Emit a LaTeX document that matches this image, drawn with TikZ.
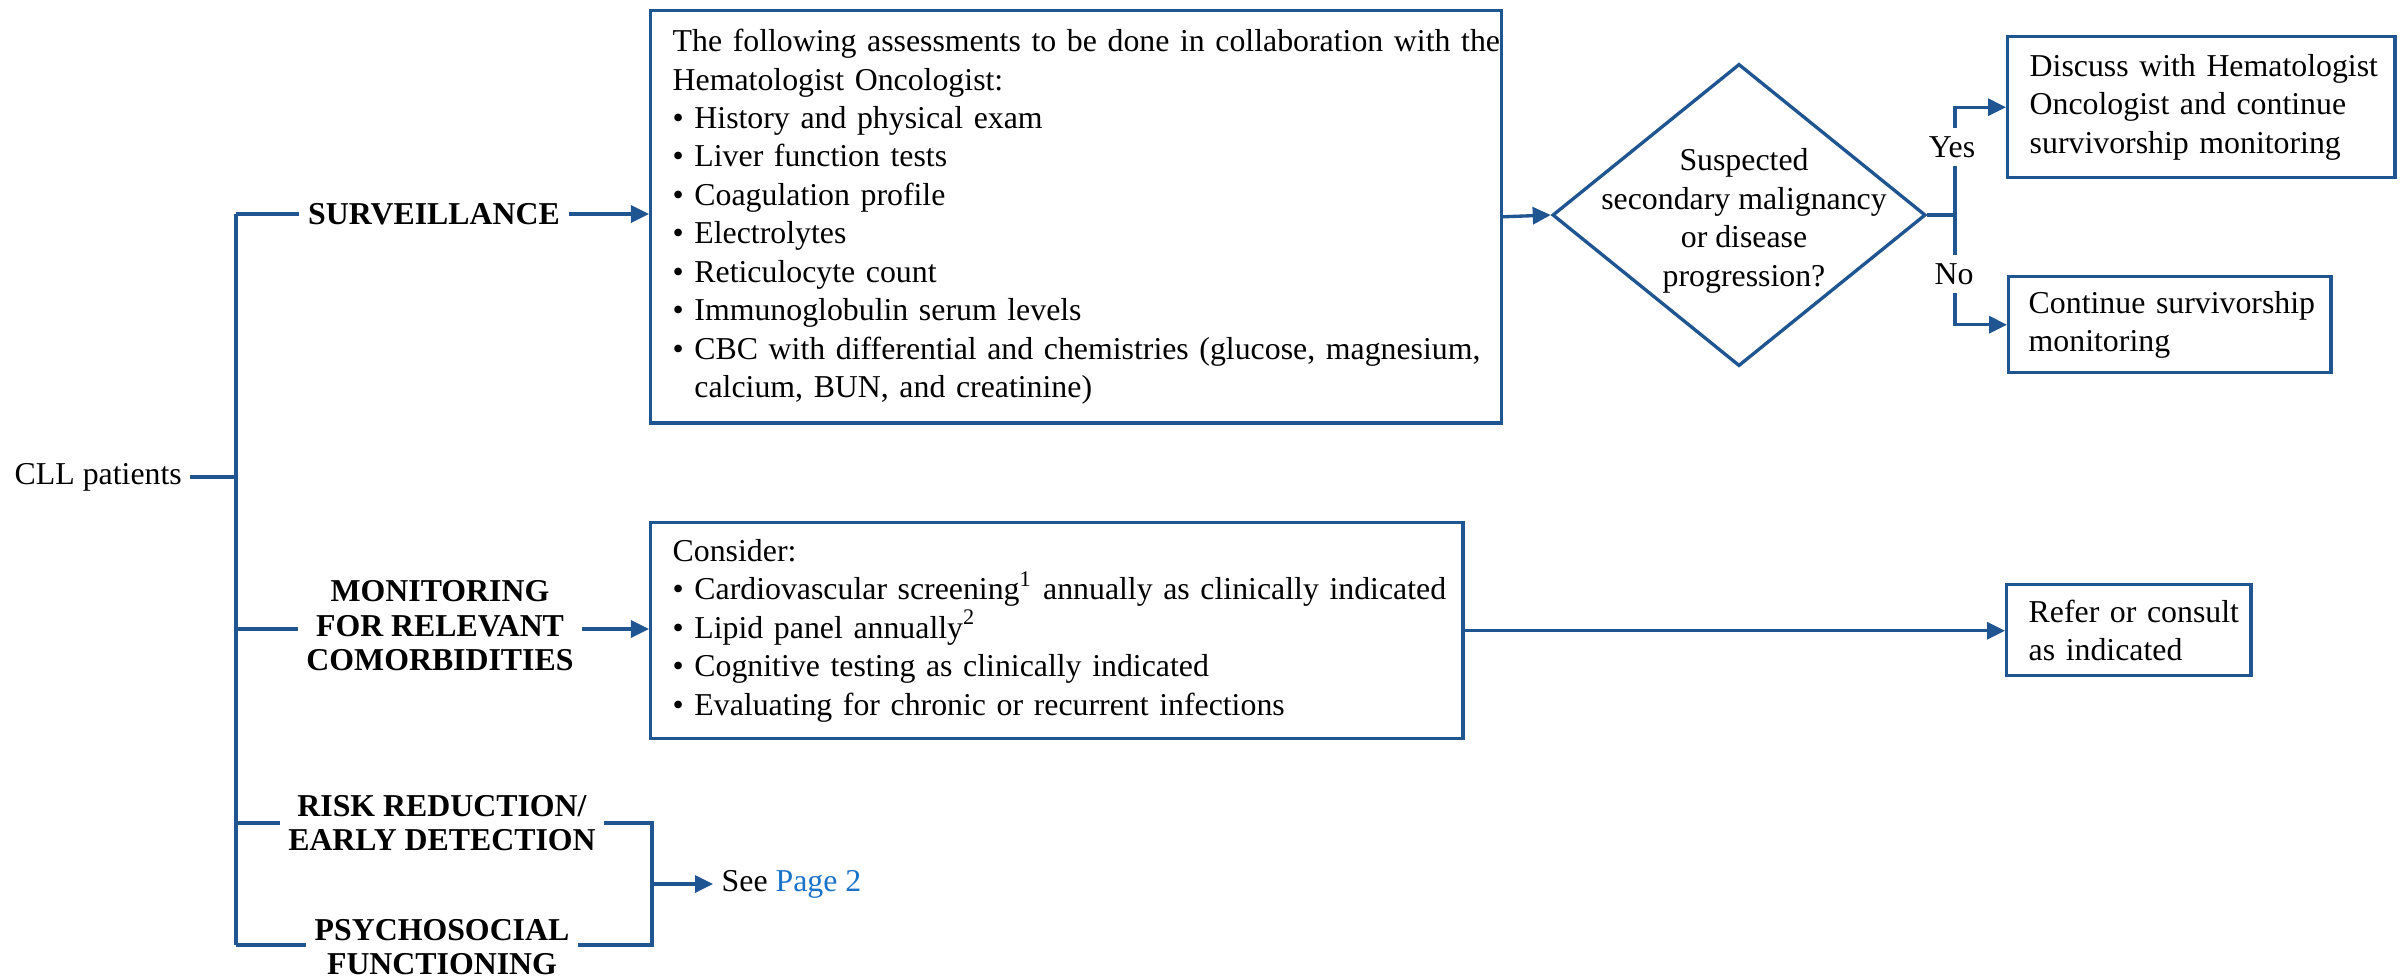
\documentclass[tikz,border=0pt]{standalone}
\usepackage{fontspec}
\setmainfont{Liberation Serif}
\usetikzlibrary{arrows.meta,shapes.geometric}
\definecolor{cllblue}{RGB}{31,86,145}
\definecolor{linkblue}{RGB}{26,115,200}
\newcommand\fsz{\fontsize{9.05pt}{10.93pt}\selectfont}
\newcommand\flab{\fontsize{9.05pt}{9.8pt}\selectfont\bfseries}
\newcommand\bul{\textbullet\ }
\newcommand\bulind{\hphantom{\textbullet\ }}
\begin{document}
\begin{tikzpicture}[x=0.01cm,y=-0.01cm,
  conn/.style={draw=cllblue,line width=0.95pt},
  arr/.style={conn,-{Triangle[length=0.18cm,width=0.17cm]}},
  box/.style={draw=cllblue,line width=0.95pt,fill=white,font=\fsz,align=left,inner xsep=0.22cm,inner ysep=0pt,anchor=north west},
  lab/.style={font=\flab,align=center,inner xsep=0.08cm,inner ysep=0.02cm},
  plain/.style={font=\fsz,inner sep=0pt}]
\useasboundingbox (0,0) rectangle (2400,978);

% left side
\node[plain,anchor=west,inner xsep=0.08cm] (cll) at (6,477) {CLL patients};
\coordinate (tS) at (236,214);
\coordinate (tC) at (236,477);
\coordinate (tM) at (236,629);
\coordinate (tR) at (236,823);
\coordinate (tP) at (236,945);
\coordinate (bR) at (652,823);
\coordinate (bP) at (652,945);
\coordinate (bS) at (652,884);

\node[lab] (surv) at (434,214) {SURVEILLANCE};
\node[lab] (mon) at (440,626) {MONITORING\\FOR RELEVANT\\COMORBIDITIES};
\node[lab] (risk) at (442,823) {RISK REDUCTION/\\EARLY DETECTION};
\node[lab] (psy) at (442,947) {PSYCHOSOCIAL\\FUNCTIONING};

% boxes
\node[box,text width=8.06cm,minimum height=4.12cm] (box1) at (649,9) {%
\mbox{The following assessments to be done in collaboration with the}\\
Hematologist Oncologist:\\
\bul History and physical exam\\
\bul Liver function tests\\
\bul Coagulation profile\\
\bul Electrolytes\\
\bul Reticulocyte count\\
\bul Immunoglobulin serum levels\\
\mbox{\bul CBC with differential and chemistries (glucose, magnesium,}\\
\bulind calcium, BUN, and creatinine)};

\node[box,text width=7.68cm,minimum height=2.16cm] (box2) at (649,521) {%
Consider:\\
\mbox{\bul Cardiovascular screening\textsuperscript{1} annually as clinically indicated}\\
\bul Lipid panel annually\textsuperscript{2}\\
\bul Cognitive testing as clinically indicated\\
\bul Evaluating for chronic or recurrent infections};

\node[diamond,draw=cllblue,line width=0.95pt,minimum width=3.73cm,minimum height=3.02cm,inner sep=0pt] (dia) at (1739,215) {};
\node[plain,align=center] (diatext) at (1744,221) {Suspected\\secondary malignancy\\or disease\\progression?};
\coordinate (jn) at (1955,215);

\node[box,text width=3.43cm,minimum height=1.41cm] (yesbox) at (2006,35) {%
\mbox{Discuss with Hematologist}\\
\mbox{Oncologist and continue}\\
\mbox{survivorship monitoring}};
\node[box,inner xsep=0.2cm,text width=2.82cm,minimum height=0.96cm] (nobox) at (2007,275) {%
\mbox{Continue survivorship}\\
monitoring};
\node[box,text width=2.0cm,minimum height=0.91cm] (refer) at (2005,583) {%
\mbox{Refer or consult}\\
as indicated};

\node[plain,anchor=west,inner xsep=0.08cm] (see) at (713,884) {See \textcolor{linkblue}{Page 2}};

% connectors
\draw[conn] (cll.east) -- (tC);
\draw[conn] (tS) -- (tP);
\draw[conn] (tS) -- (surv.west |- tS);
\draw[arr] (surv.east |- tS) -- (tS -| box1.west);
\draw[conn] (tM) -- (mon.west |- tM);
\draw[arr] (mon.east |- tM) -- (tM -| box2.west);
\draw[conn] (tR) -- (risk.west |- tR);
\draw[conn] (risk.east |- tR) -- (bR) -- (bP) -- (psy.east |- bP);
\draw[conn] (tP) -- (psy.west |- tP);
\draw[arr] (bS) -- (see.west);
\draw[arr] (box1.east) -- (dia.west);
\draw[conn] (dia.east) -- (jn);
\draw[arr] (jn) |- (yesbox.west);
\draw[arr] (jn) |- (nobox.west);
\draw[arr] (box2.east) -- (box2.east -| refer.west);

\node[plain,fill=white,inner ysep=0.08cm,inner xsep=0.02cm] (yeslab) at (1952,147) {Yes};
\node[plain,fill=white,inner ysep=0.08cm,inner xsep=0.02cm] (nolab) at (1954,274) {No};
\end{tikzpicture}
\end{document}
